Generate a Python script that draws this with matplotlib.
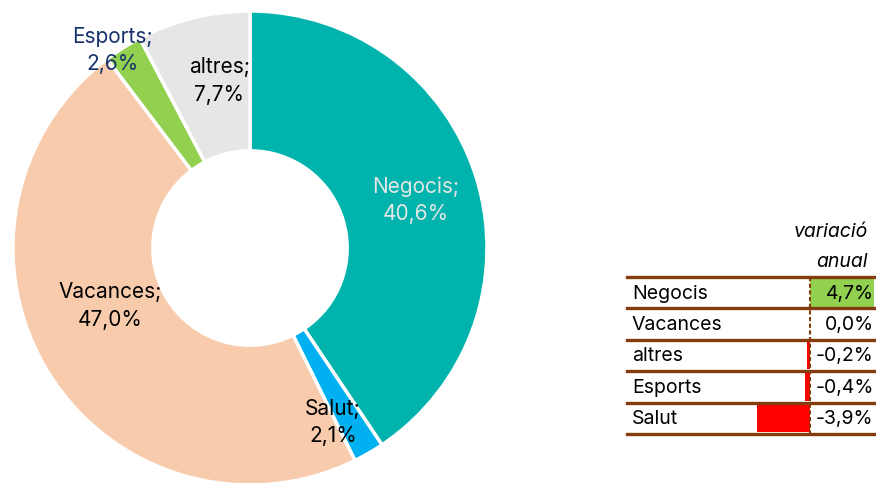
import matplotlib
matplotlib.use("Agg")
import matplotlib.pyplot as plt
from matplotlib.transforms import blended_transform_factory

plt.rcParams['font.family'] = ['Inter', 'DejaVu Sans']

# ---- data ----
pie_labels = ["Negocis", "Salut", "Vacances", "Esports", "altres"]
pie_values = [40.6, 2.1, 47.0, 2.6, 7.7]
pie_colors = ["#00B4AD", "#00B0F0", "#F8CBAD", "#92D050", "#E7E6E6"]
label_colors = ["#E6E6E6", "#000000", "#000000", "#17326A", "#000000"]
label_pos = [(0.70, 0.20), (0.35, -0.735), (-0.59, -0.245), (-0.58, 0.835), (-0.13, 0.705)]

table_labels = ["Negocis", "Vacances", "altres", "Esports", "Salut"]
table_values = [4.7, 0.0, -0.2, -0.4, -3.9]
table_text = ["4,7%", "0,0%", "-0,2%", "-0,4%", "-3,9%"]

W, H = 876, 483
fig = plt.figure(figsize=(W / 100, H / 100), dpi=100)

# ---- donut ----
cx, cy, R = 250, 248, 237
axp = fig.add_axes([(cx - R) / W, (H - cy - R) / H, 2 * R / W, 2 * R / H])
axp.pie(pie_values, colors=pie_colors, startangle=90, counterclock=False,
        radius=1, wedgeprops=dict(width=0.59, edgecolor="white", linewidth=2.5))
axp.set_xlim(-1, 1)
axp.set_ylim(-1, 1)
axp.set_aspect("equal")
axp.axis("off")
for lab, val, col, (x, y) in zip(pie_labels, pie_values, label_colors, label_pos):
    axp.text(x, y, f"{lab};\n{val:.1f}%".replace(".", ","), ha="center", va="center",
             fontsize=15, color=col, linespacing=1.45)

# ---- table with bars ----
brown = "#843C0C"
x0_px, x1_px, zero_px, px_per = 627, 876, 810, 13.6
top_px, bot_px = 277, 434
axt = fig.add_axes([x0_px / W, 1 - bot_px / H, (x1_px - x0_px) / W, (bot_px - top_px) / H])
n = len(table_labels)
axt.set_xlim((x0_px - zero_px) / px_per, (x1_px - zero_px) / px_per)
axt.set_ylim(n - 0.5, -0.5)
axt.axis("off")
cols = ["#92D050" if v > 0 else "#FF0000" for v in table_values]
axt.barh(range(n), table_values, height=0.88, color=cols, zorder=1)
for i in range(n + 1):
    axt.axhline(i - 0.5, color=brown, lw=2.4, zorder=3, clip_on=False)
axt.plot([0, 0], [-0.5, n - 0.5], color=brown, lw=1.5, ls=(0, (2, 1.2)), zorder=2)
tr = blended_transform_factory(axt.transAxes, axt.transData)
for i, (lab, txt) in enumerate(zip(table_labels, table_text)):
    axt.text(0.02, i + 0.03, lab, transform=tr, ha="left", va="center", fontsize=14)
    axt.text(0.99, i + 0.03, txt, transform=tr, ha="right", va="center", fontsize=14, zorder=4)

fig.text(868 / W, 1 - 232 / H, "variació", ha="right", va="center", fontsize=14, style="italic")
fig.text(868 / W, 1 - 262 / H, "anual", ha="right", va="center", fontsize=14, style="italic")

fig.savefig("out.png", dpi=100)
